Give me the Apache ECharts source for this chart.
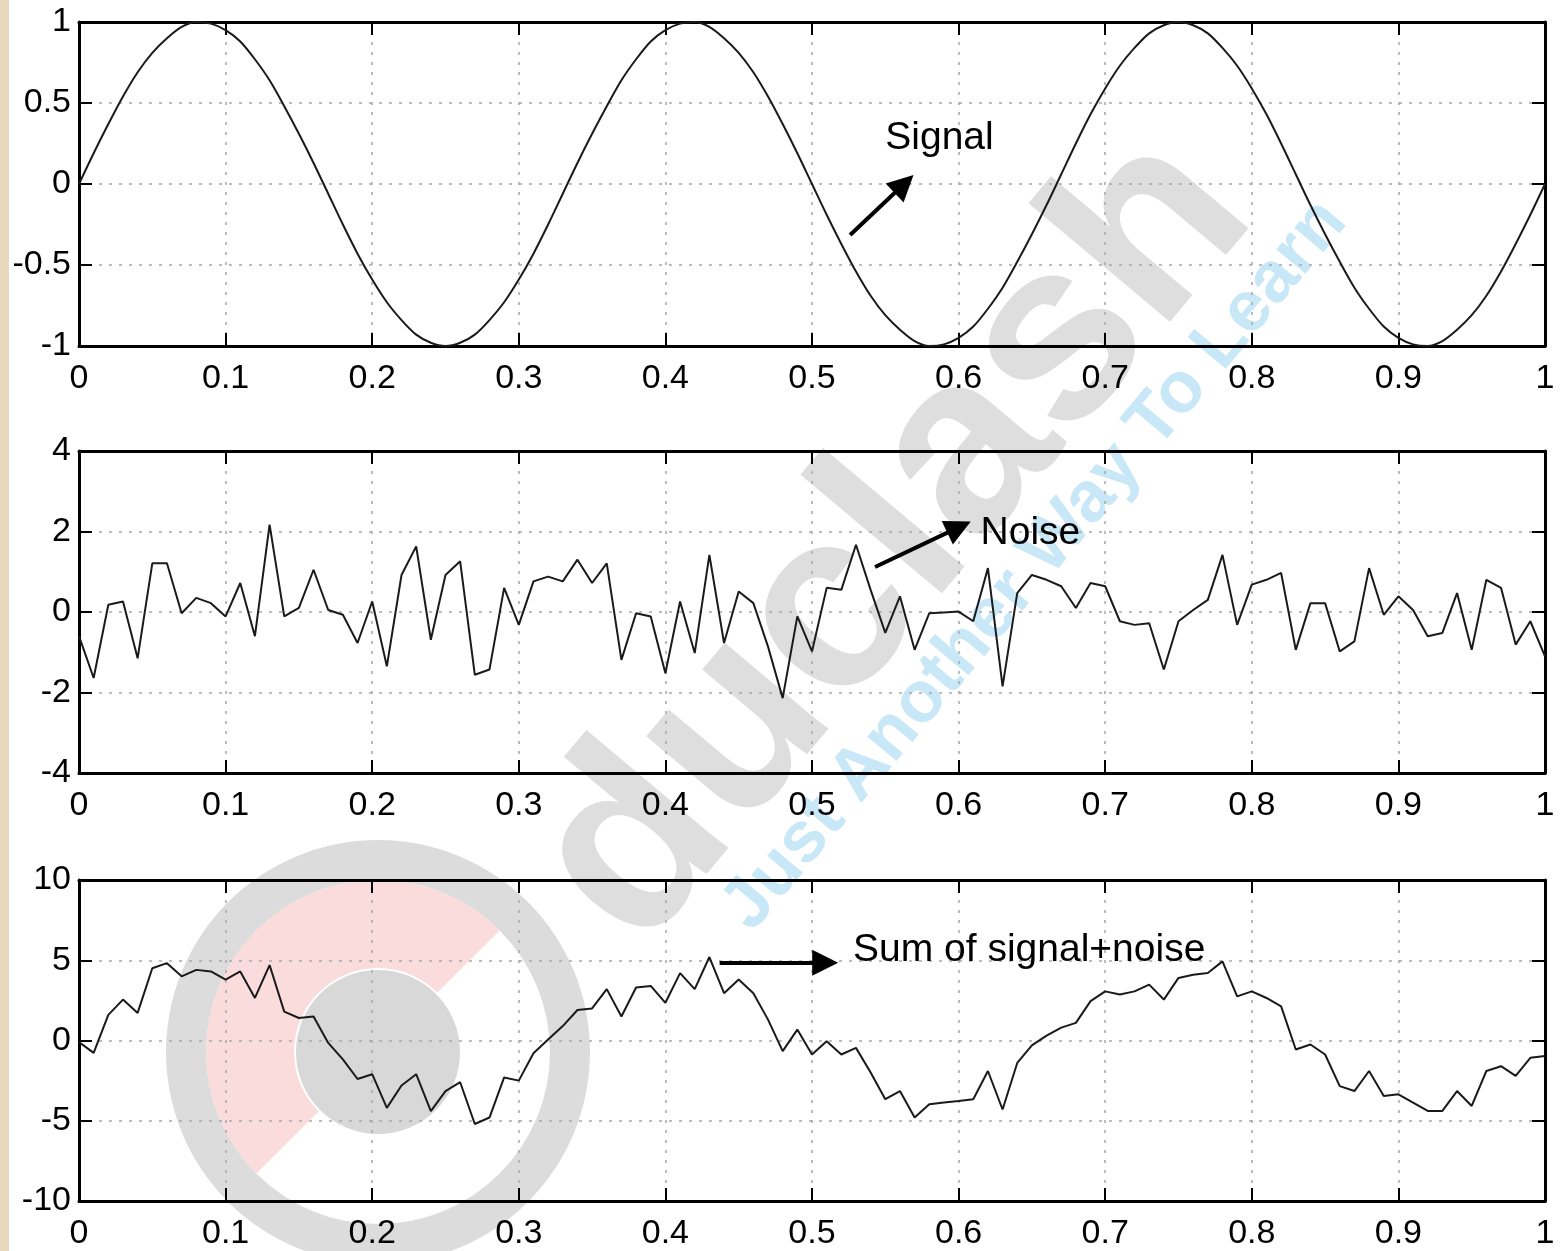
<!DOCTYPE html>
<html>
<head>
<meta charset="utf-8">
<script src="https://cdn.jsdelivr.net/npm/echarts@6/dist/echarts.min.js"></script>
<style>
  html, body { margin: 0; padding: 0; background: #ffffff; }
  #chart { width: 1568px; height: 1251px; }
</style>
</head>
<body>
<div id="chart"></div>
<script>
// ---- data ----
const dt = 0.01; // sample spacing along time axis (0 .. 1)
const signal = [0,0.19,0.37,0.54,0.69,0.81,0.9,0.97,1,0.99,0.95,0.88,0.77,0.64,0.48,0.31,0.13,-0.06,-0.25,-0.43,-0.59,-0.73,-0.84,-0.93,-0.98,-1,-0.98,-0.93,-0.84,-0.73,-0.59,-0.43,-0.25,-0.06,0.13,0.31,0.48,0.64,0.77,0.88,0.95,0.99,1,0.97,0.9,0.81,0.69,0.54,0.37,0.19,0,-0.19,-0.37,-0.54,-0.69,-0.81,-0.9,-0.97,-1,-0.99,-0.95,-0.88,-0.77,-0.64,-0.48,-0.31,-0.13,0.06,0.25,0.43,0.59,0.73,0.84,0.93,0.98,1,0.98,0.93,0.84,0.73,0.59,0.43,0.25,0.06,-0.13,-0.31,-0.48,-0.64,-0.77,-0.88,-0.95,-0.99,-1,-0.97,-0.9,-0.81,-0.69,-0.54,-0.37,-0.19,0];
const noise = [-0.6,-1.64,0.18,0.26,-1.15,1.21,1.21,-0.03,0.35,0.22,
  -0.11,0.72,-0.6,2.17,-0.11,0.1,1.05,0.05,-0.07,-0.77,
  0.26,-1.35,0.92,1.63,-0.69,0.92,1.26,-1.56,-1.43,0.6,
  -0.32,0.76,0.88,0.76,1.3,0.72,1.21,-1.19,-0.03,-0.11,
  -1.52,0.26,-1.02,1.42,-0.77,0.51,0.22,-0.86,-2.14,-0.11,
  -0.98,0.6,0.55,1.67,0.55,-0.52,0.39,-0.94,-0.03,-0.01,
  0.01,-0.23,1.09,-1.85,0.47,0.92,0.8,0.64,0.1,0.72,
  0.64,-0.23,-0.32,-0.28,-1.43,-0.23,0.05,0.3,1.42,-0.32,
  0.68,0.8,0.97,-0.94,0.22,0.22,-0.98,-0.73,1.09,-0.07,
  0.39,0.05,-0.6,-0.52,0.47,-0.94,0.8,0.6,-0.81,-0.23,
  -1.1];
const sumSN = [-0.1,-0.77,1.6,2.55,1.72,4.5,4.82,4.0,4.4,4.3,
  3.8,4.3,2.65,4.7,1.8,1.4,1.5,-0.15,-1.18,-2.4,
  -2.1,-4.2,-2.8,-2.1,-4.4,-3.15,-2.6,-5.2,-4.8,-2.3,
  -2.5,-0.8,0.06,0.9,1.9,2.0,3.2,1.5,3.3,3.4,
  2.35,4.2,3.2,5.2,2.95,3.8,2.95,1.3,-0.66,0.68,
  -0.87,-0.04,-0.87,-0.46,-2.0,-3.66,-3.15,-4.8,-3.97,-3.87,
  -3.77,-3.66,-1.9,-4.3,-1.4,-0.3,0.3,0.8,1.1,2.45,
  3.06,2.86,3.06,3.48,2.55,3.9,4.1,4.2,4.93,2.75,
  3.06,2.65,2.13,-0.56,-0.25,-0.87,-2.84,-3.15,-1.9,-3.46,
  -3.35,-3.87,-4.39,-4.39,-3.15,-4.08,-1.9,-1.6,-2.2,-1.08,
  -0.97];
const yRanges = [[-1, 1, 0.5], [-4, 4, 2], [-10, 10, 5]];
const labels = ['Signal', 'Noise', 'Sum of signal+noise'];

// ---- build ----
const FONT = "'Liberation Sans', Arial, Helvetica, sans-serif";
const pairs = arr => arr.map((v, i) => [Math.round(i * dt * 100) / 100, v]);

const grids = [
  { left: 79, right: 23, top: 22, height: 324 },
  { left: 79, right: 23, top: 451, height: 322 },
  { left: 79, right: 23, top: 880, height: 322 }
];

const xAxes = [], yAxes = [];
grids.forEach((g, gi) => {
  const lineS = { show: true, onZero: false, lineStyle: { color: '#000', width: 3 } };
  const tickS = { show: true, inside: true, length: 13, lineStyle: { color: '#000', width: 2 } };
  xAxes.push({
    gridIndex: gi, type: 'value', min: 0, max: 1, interval: 0.1, position: 'bottom',
    axisLine: lineS, axisTick: tickS,
    axisLabel: { fontSize: 34, color: '#000', margin: 16, fontFamily: FONT },
    splitLine: { show: true, lineStyle: { color: '#a8a8a8', width: 1.5, type: [3, 7] } }
  });
  xAxes.push({
    gridIndex: gi, type: 'value', min: 0, max: 1, interval: 0.1, position: 'top',
    axisLine: lineS, axisTick: tickS, axisLabel: { show: false }, splitLine: { show: false }
  });
  const r = yRanges[gi];
  yAxes.push({
    gridIndex: gi, type: 'value', min: r[0], max: r[1], interval: r[2], position: 'left',
    axisLine: lineS, axisTick: tickS,
    axisLabel: { fontSize: 34, color: '#000', margin: 8, fontFamily: FONT },
    splitLine: { show: true, lineStyle: { color: '#a8a8a8', width: 1.5, type: [3, 7] } }
  });
  yAxes.push({
    gridIndex: gi, type: 'value', min: r[0], max: r[1], interval: r[2], position: 'right',
    axisLine: lineS, axisTick: tickS, axisLabel: { show: false }, splitLine: { show: false }
  });
});

function annot(text, at, from, to) {
  return {
    markLine: {
      silent: true, animation: false,
      symbol: ['none', 'triangle'], symbolSize: 26,
      lineStyle: { color: '#000', width: 4, type: 'solid' },
      label: { show: false },
      data: [[{ coord: from }, { coord: to }]]
    },
    markPoint: {
      silent: true, animation: false,
      symbol: 'circle', symbolSize: 0,
      label: { show: true, position: 'right', distance: 0, formatter: text,
               fontSize: 39, color: '#000', fontFamily: FONT },
      data: [{ coord: at }]
    }
  };
}

const lineStyle = { color: '#1a1a1a', width: 2 };
const series = [
  Object.assign({ type: 'line', xAxisIndex: 0, yAxisIndex: 0, data: pairs(signal), showSymbol: false,
    smooth: 0.3, lineStyle: lineStyle, z: 5 },
    annot(labels[0], [0.55, 0.284], [0.526, -0.315], [0.5628, 0.0])),
  Object.assign({ type: 'line', xAxisIndex: 2, yAxisIndex: 2, data: pairs(noise), showSymbol: false,
    lineStyle: lineStyle, z: 5 },
    annot(labels[1], [0.615, 1.96], [0.543, 1.118], [0.6003, 2.11])),
  Object.assign({ type: 'line', xAxisIndex: 4, yAxisIndex: 4, data: pairs(sumSN), showSymbol: false,
    lineStyle: lineStyle, z: 5 },
    annot(labels[2], [0.528, 5.65], [0.437, 4.84], [0.509, 4.84]))
];

// faint watermark of the reference picture
const deg = Math.PI / 180;
const graphic = [
  { type: 'rect', z: -10, silent: true, shape: { x: 0, y: 0, width: 9, height: 1251 }, style: { fill: '#e9d9bc' } },
  { type: 'ring', z: -10, silent: true, shape: { cx: 378, cy: 1052, r: 212, r0: 172 }, style: { fill: '#dcdcdc' } },
  { type: 'sector', z: -10, silent: true, shape: { cx: 378, cy: 1052, r: 172, r0: 84, startAngle: 135 * deg, endAngle: 315 * deg, clockwise: true }, style: { fill: '#fadcdc' } },
  { type: 'circle', z: -10, silent: true, shape: { cx: 378, cy: 1052, r: 82 }, style: { fill: '#d8d8d8' } },
  { type: 'text', z: -10, silent: true, x: 895, y: 540, rotation: 50 * deg,
    style: { text: 'duclash', font: "bold 255px " + FONT, fill: '#dedede', align: 'center', verticalAlign: 'middle' } },
  { type: 'text', z: -9, silent: true, x: 1035, y: 565, rotation: 50 * deg,
    style: { text: 'Just Another Way To Learn', font: "bold 72px " + FONT, fill: '#c8e8f8', align: 'center', verticalAlign: 'middle' } }
];

const chart = echarts.init(document.getElementById('chart'), null, { renderer: 'canvas' });
chart.setOption({
  backgroundColor: '#ffffff',
  animation: false,
  textStyle: { fontFamily: FONT },
  grid: grids,
  xAxis: xAxes,
  yAxis: yAxes,
  series: series,
  graphic: graphic
});
</script>
</body>
</html>
